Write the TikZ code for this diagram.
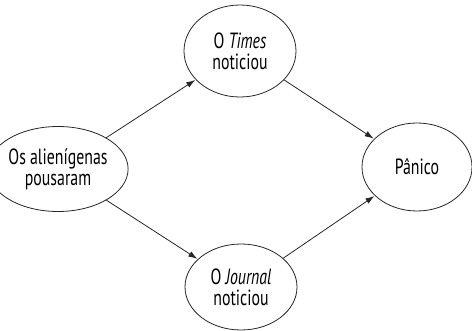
\documentclass[tikz,border=0pt]{standalone}
\usepackage{fontspec}
\setmainfont[FakeStretch=0.72]{PT Sans}
\usetikzlibrary{shapes.geometric,arrows.meta}
\begin{document}
\begin{tikzpicture}[x=1pt,y=-1pt,
  bubble/.style={draw=black!85,line width=0.8pt,ellipse,inner sep=0pt,minimum width=#1,align=center,font=\fontsize{22}{21}\selectfont},
  link/.style={draw=black!85,line width=0.8pt,-{Latex[length=9pt,width=6pt]},shorten >=0.5pt}]
\useasboundingbox (0,0) rectangle (472,331);
\node[bubble=113pt,minimum height=85pt] (a) at (58,169) {Os alienígenas\\pousaram};
\node[bubble=112pt,minimum height=92pt] (t) at (240,51) {O \textit{Times}\\noticiou};
\node[bubble=112pt,minimum height=86pt] (j) at (241,287) {O \textit{Journal}\\noticiou};
\node[bubble=110pt,minimum height=88pt] (p) at (417,167) {Pânico};
\draw[link] (a) -- (t);
\draw[link] (a) -- (j);
\draw[link] (t) -- (p);
\draw[link] (j) -- (p);
\end{tikzpicture}
\end{document}
